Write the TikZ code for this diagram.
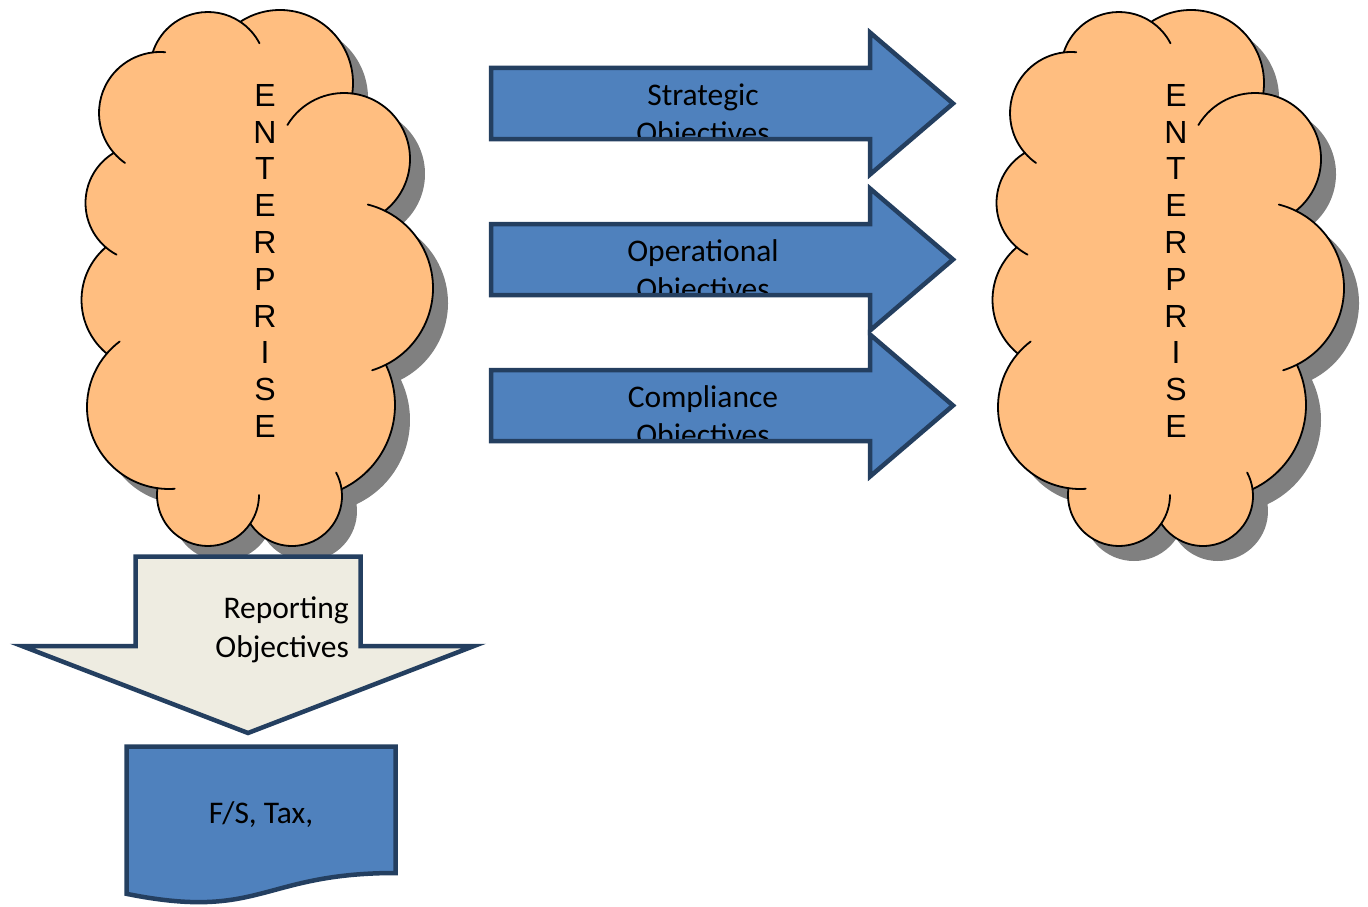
\documentclass[tikz,border=0pt]{standalone}
\usepackage{fontspec}
\setmainfont{Carlito}
\newfontfamily\arialfont{Liberation Sans}
\definecolor{cloudorange}{HTML}{FFBE80}
\definecolor{cloudshade}{HTML}{808080}
\definecolor{boxblue}{HTML}{4F81BD}
\definecolor{boxedge}{HTML}{243F60}
\definecolor{paletan}{HTML}{EEECE1}

% Outline of the cloud: eleven circular bumps joined corner to corner
\newcommand\cloudoutline{%
([shift={(162.3:58)}]208,-70) arc[start angle=162.3,end angle=56.2,radius=58]
-- ([shift={(123:73)}]280,-83) arc[start angle=123,end angle=-8.3,radius=73]
-- ([shift={(82.9:66)}]344,-159) arc[start angle=82.9,end angle=-51.7,radius=66]
-- ([shift={(63.9:86)}]347,-288) arc[start angle=63.9,end angle=-63.2,radius=86]
-- ([shift={(25.7:93)}]302,-405) arc[start angle=25.7,end angle=-64.9,radius=93]
-- ([shift={(7.8:50)}]292,-496) arc[start angle=7.8,end angle=-146.6,radius=50]
-- ([shift={(-34:51)}]208,-495) arc[start angle=-34,end angle=-187.7,radius=51]
-- ([shift={(-98.1:82)}]169,-407) arc[start angle=-98.1,end angle=-220.6,radius=82]
-- ([shift={(230.4:69.5)}]151,-300) arc[start angle=230.4,end angle=130.6,radius=69.5]
-- ([shift={(229.2:58.5)}]144,-203) arc[start angle=229.2,end angle=121.1,radius=58.5]
-- ([shift={(220.8:61)}]160,-113) arc[start angle=220.8,end angle=96.9,radius=61]
-- cycle}

\tikzset{
  cloudbody/.style={fill=cloudorange,draw=black,line width=1.8pt,line join=round},
  cloudshadow/.style={fill=cloudshade},
  cloudline/.style={draw=black,line width=1.8pt,line cap=round},
  enterprisetext/.style={anchor=north,inner sep=0pt,align=center,
    font=\arialfont\fontsize{32}{36.8}\selectfont},
  objarrow/.style={fill=boxblue,draw=boxedge,line width=4.5pt,line join=miter},
  reportarrow/.style={fill=paletan,draw=boxedge,line width=4.5pt,line join=miter},
  docshape/.style={fill=boxblue,draw=boxedge,line width=4.5pt,line join=miter},
  objlabel/.style={anchor=base,inner sep=0pt,font=\fontsize{31.5}{38}\selectfont},
  replabel/.style={anchor=base east,inner sep=0pt,font=\fontsize{31.5}{38}\selectfont},
  pics/enterprisecloud/.style={code={
    \fill[cloudshadow,shift={(15,-15)}] \cloudoutline;
    \path[cloudbody] \cloudoutline;
    % inner strokes where a bump runs on past its neighbour
    \draw[cloudline] ([shift={(56.2:58)}]208,-70) arc[start angle=56.2,end angle=27.4,radius=58];
    \draw[cloudline] ([shift={(149:66)}]344,-159) arc[start angle=149,end angle=82.9,radius=66];
    \draw[cloudline] ([shift={(76:86)}]347,-288) arc[start angle=76,end angle=63.9,radius=86];
    \draw[cloudline] ([shift={(-63.2:86)}]347,-288) arc[start angle=-63.2,end angle=-73,radius=86];
    \draw[cloudline] ([shift={(28:50)}]292,-496) arc[start angle=28,end angle=7.8,radius=50];
    \draw[cloudline] ([shift={(0:51)}]208,-495) arc[start angle=0,end angle=-34,radius=51];
    \draw[cloudline] ([shift={(-86:82)}]169,-407) arc[start angle=-86,end angle=-98.1,radius=82];
    \draw[cloudline] ([shift={(-220.6:82)}]169,-407) arc[start angle=-220.6,end angle=-233,radius=82];
    \draw[cloudline] ([shift={(242:58.5)}]144,-203) arc[start angle=242,end angle=229.2,radius=58.5];
    \draw[cloudline] ([shift={(235:61)}]160,-113) arc[start angle=235,end angle=220.8,radius=61];
    \draw[cloudline] ([shift={(96.9:61)}]160,-113) arc[start angle=96.9,end angle=85,radius=61];
  }}
}

\begin{document}
\begin{tikzpicture}[x=1pt,y=1pt]
\useasboundingbox (0,0) rectangle (1368,-907);

% the two enterprise clouds
\pic (cloudL) at (0,0) {enterprisecloud};
\pic (cloudR) at (911,0) {enterprisecloud};
\node[enterprisetext] (entL) at (265,-84) {E\\N\\T\\E\\R\\P\\R\\I\\S\\E};
\node[enterprisetext] (entR) at (1176,-84) {E\\N\\T\\E\\R\\P\\R\\I\\S\\E};

% three objective arrows between the clouds
\foreach \yc/\nm/\txt in {-103.5/strategic/Strategic,-259.5/operational/Operational,-405.5/compliance/Compliance}{
  \draw[objarrow] (491,\yc+35.5) -- (870,\yc+35.5) -- (870,\yc+71) -- (953,\yc)
    -- (870,\yc-71) -- (870,\yc-35.5) -- (491,\yc-35.5) -- cycle;
  \begin{scope}
    \clip (493.25,\yc+33.25) rectangle (953,\yc-33.25);
    \node[objlabel] (\nm-a) at (703,\yc-1.5) {\txt};
    \node[objlabel] (\nm-b) at (703,\yc-39.5) {Objectives};
  \end{scope}
}

% reporting arrow below the left cloud
\draw[reportarrow] (135.5,-556.5) -- (360.5,-556.5) -- (360.5,-646) -- (474,-646)
  -- (248,-733) -- (22,-646) -- (135.5,-646) -- cycle;
\node[replabel] (rep-a) at (349,-618) {Reporting};
\node[replabel] (rep-b) at (349,-657) {Objectives};

% document shape
\draw[docshape] (126.5,-746.5) -- (395.5,-746.5) -- (395.5,-873)
  .. controls (261,-873) and (261,-921) .. (126.5,-893.8) -- cycle;
\node[objlabel] (docText) at (261,-823) {F/S, Tax,};
\end{tikzpicture}
\end{document}
